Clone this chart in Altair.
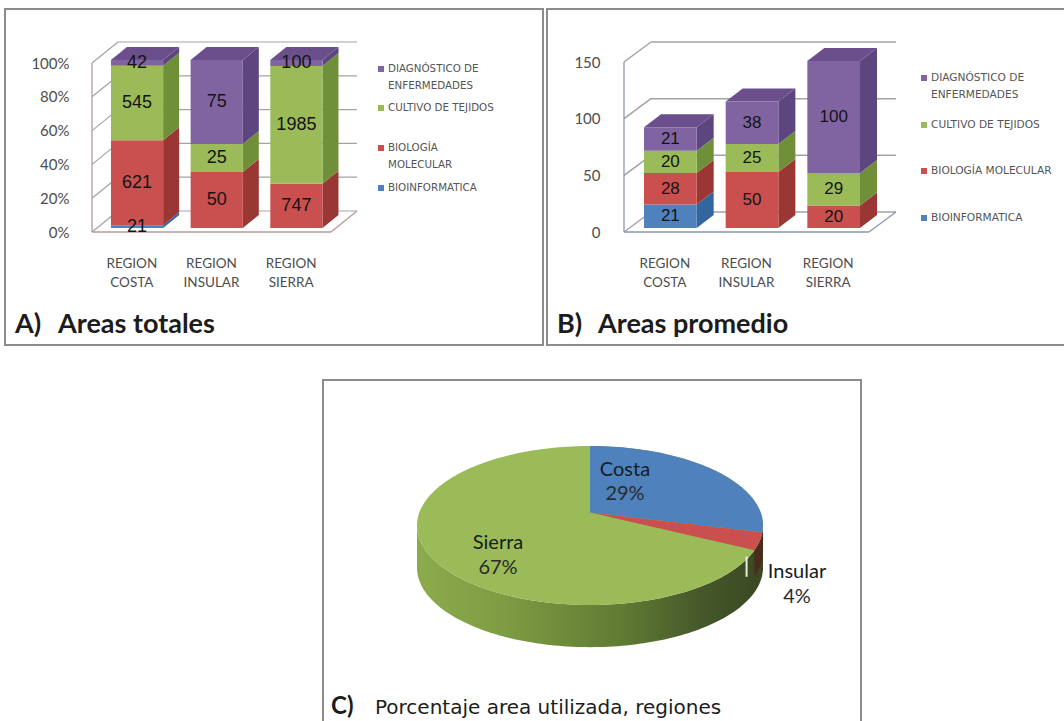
import math
import altair as alt
import pandas as pd

# Region names and series shared by the stacked panels
regions = ["REGION COSTA", "REGION INSULAR", "REGION SIERRA"]
series = ["Bioinformatica", "Biologia", "Cultivo", "Diagnostico"]

# Panel A: total areas per region, drawn as a 100% stack
totals_bioinfo = [21, 0, 0]
totals_biologia = [621, 50, 747]
totals_cultivo = [545, 25, 1985]
totals_diagnostico = [42, 75, 100]

# Panel B: mean areas per region, drawn as an absolute stack
means_bioinfo = [21, 0, 0]
means_biologia = [28, 50, 20]
means_cultivo = [20, 25, 29]
means_diagnostico = [21, 38, 100]

# Panel C: share of used area
pie_names = ["Costa", "Insular", "Sierra"]
pie_shares = [29, 4, 67]

FRONT = {"Bioinformatica": "#4f81bd", "Biologia": "#c9504f", "Cultivo": "#9bbb59", "Diagnostico": "#8064a2"}
SIDE = {"Bioinformatica": "#33669f", "Biologia": "#9a3734", "Cultivo": "#6f8f38", "Diagnostico": "#5d4680"}
TOP = {"Bioinformatica": "#4273ad", "Biologia": "#a84442", "Cultivo": "#7f9f45", "Diagnostico": "#6a4f8c"}
ONE_ROW = pd.DataFrame({"k": [0]})


def qx(x_range, domain=(0, 3)):
    return alt.Scale(domain=list(domain), range=list(x_range), nice=False, zero=False)


def qy(y_range, top):
    return alt.Scale(domain=[0, top], range=list(y_range), nice=False, zero=False)


def text(x, y, label, size=12, font="Lato", color="#444444", align="left", weight="normal"):
    return (
        alt.Chart(ONE_ROW)
        .mark_text(font=font, fontSize=size, color=color, align=align, baseline="middle", fontWeight=weight)
        .encode(x=alt.value(x), y=alt.value(y), text=alt.value(label))
    )


def frame(x0, y0, x1, y1):
    return (
        alt.Chart(ONE_ROW)
        .mark_rect(fillOpacity=0, stroke="#8c8c8c", strokeWidth=2)
        .encode(x=alt.value(x0), x2=alt.value(x1), y=alt.value(y0), y2=alt.value(y1))
    )


def stacked_panel(columns, top, ticks, suffix, geo):
    """Pseudo-3D stacked bars: walls, then side, top and front faces, then labels."""
    layers = []
    xs, ys = geo["front_x"], geo["front_y"]
    unit_px = (xs[1] - xs[0]) / 3
    wall_dx = geo["wall"][0] / unit_px
    wall_dy = geo["wall"][1] / (ys[0] - ys[1]) * top
    x_scale = qx(xs)
    y_scale = qy(ys, top)

    # Back-wall grid, left-wall diagonals and floor edges
    rows = []
    for t in ticks:
        rows += [{"id": f"g{t}", "x": wall_dx, "y": t + wall_dy}, {"id": f"g{t}", "x": 3 + wall_dx, "y": t + wall_dy}]
        rows += [{"id": f"d{t}", "x": 0, "y": t}, {"id": f"d{t}", "x": wall_dx, "y": t + wall_dy}]
    walls = pd.DataFrame(rows)
    layers.append(
        alt.Chart(walls).mark_line(color="#a3a3a3", strokeWidth=geo["grid_width"]).encode(
            x=alt.X("x:Q", scale=x_scale, axis=None),
            y=alt.Y("y:Q", scale=y_scale, axis=None),
            detail="id:N",
        )
    )
    edge = pd.DataFrame(
        [
            {"id": "r", "x": 3, "y": 0},
            {"id": "r", "x": 3 + wall_dx, "y": wall_dy},
            {"id": "b", "x": 0, "y": 0},
            {"id": "b", "x": 3, "y": 0},
            {"id": "l", "x": 1e-6, "y": 0},
            {"id": "l", "x": 0, "y": top},
        ]
    )
    layers.append(
        alt.Chart(edge).mark_line(color=geo["edge"], strokeWidth=1.3).encode(
            x=alt.X("x:Q", scale=x_scale, axis=None),
            y=alt.Y("y:Q", scale=y_scale, axis=None),
            detail="id:N",
        )
    )

    # Axes: labels only, carried by an invisible layer on the front plane
    axis_frame = pd.DataFrame({"region": regions, "v": [0] * 3})
    layers.append(
        alt.Chart(axis_frame).mark_point(opacity=0).encode(
            x=alt.X(
                "region:N",
                sort=regions,
                title=None,
                scale=alt.Scale(type="band", domain=regions, range=list(xs), paddingInner=0, paddingOuter=0),
                axis=alt.Axis(
                    labelExpr="split(datum.label, ' ')", labelAngle=0, labelFont="Lato", labelFontSize=13.5,
                    labelColor="#4d4d4d", labelLineHeight=19, domain=False, ticks=False, grid=False,
                    labelPadding=0, offset=-465, orient="bottom", labelBaseline="top",
                ),
            ),
            y=alt.Y(
                "v:Q",
                title=None,
                scale=y_scale,
                axis=alt.Axis(
                    values=ticks, labelExpr=f"datum.value + '{suffix}'", labelFont="Lato", labelFontSize=15,
                    labelColor="#4d4d4d", domain=False, ticks=False, grid=False, labelPadding=0,
                    offset=-geo["label_right"], orient="left",
                ),
            ),
        )
    )

    # Faces
    bar_x = qx(geo["bar_x"])
    bar_y = qy(geo["bar_y"], top)
    bar_unit = (geo["bar_x"][1] - geo["bar_x"][0]) / 3
    depth_x = geo["depth"][0] / bar_unit
    depth_y = geo["depth"][1] / (geo["bar_y"][0] - geo["bar_y"][1]) * top
    left0, width = geo["bar_left"], geo["bar_width"]

    fronts, faces, labels = [], [], []
    for i in range(3):
        stack_total = sum(columns[s][i] for s in series)
        scale_by = (100 / stack_total) if suffix else 1
        base = 0
        last = None
        for s in series:
            value = columns[s][i]
            if value == 0:
                continue
            y0, y1 = base, base + value * scale_by
            base = y1
            L, R = i + left0, i + left0 + width
            fronts.append({"x": L, "x2": R, "y": y0, "y2": y1, "c": FRONT[s]})
            labels.append({"x": (L + R) / 2, "y": (y0 + y1) / 2, "t": str(value)})
            sid = f"{i}{s}s"
            faces.append({"id": sid, "x": R, "y": y0, "y2": y1, "c": SIDE[s]})
            faces.append({"id": sid, "x": R + depth_x, "y": y0 + depth_y, "y2": y1 + depth_y, "c": SIDE[s]})
            last = (s, L, R, y1)
        s, L, R, t = last
        tid = f"{i}t"
        faces.append({"id": tid, "x": L, "y": t, "y2": t, "c": TOP[s]})
        faces.append({"id": tid, "x": L + depth_x, "y": t, "y2": t + depth_y, "c": TOP[s]})
        faces.append({"id": tid, "x": R, "y": t, "y2": t + depth_y, "c": TOP[s]})
        faces.append({"id": tid, "x": R + depth_x, "y": t + depth_y, "y2": t + depth_y, "c": TOP[s]})

    layers.append(
        alt.Chart(pd.DataFrame(faces)).mark_area(interpolate="linear", opacity=1).encode(
            x=alt.X("x:Q", scale=bar_x, axis=None),
            y=alt.Y("y:Q", scale=bar_y, axis=None, stack=None),
            y2="y2:Q",
            color=alt.Color("c:N", scale=None),
            detail="id:N",
        )
    )
    layers.append(
        alt.Chart(pd.DataFrame(fronts)).mark_rect().encode(
            x=alt.X("x:Q", scale=bar_x, axis=None),
            x2="x2:Q",
            y=alt.Y("y:Q", scale=bar_y, axis=None),
            y2="y2:Q",
            color=alt.Color("c:N", scale=None),
        )
    )
    layers.append(
        alt.Chart(pd.DataFrame(labels)).mark_text(font="Liberation Sans", fontSize=geo["value_size"], color="#141414").encode(
            x=alt.X("x:Q", scale=bar_x, axis=None),
            y=alt.Y("y:Q", scale=bar_y, axis=None),
            text="t:N",
        )
    )

    # Legend rows
    for s, sy, lines in geo["legend"]:
        layers.append(
            alt.Chart(ONE_ROW).mark_square(size=36, color=FRONT[s], opacity=1).encode(
                x=alt.value(geo["legend_x"] - 7), y=alt.value(sy)
            )
        )
        for dy, line in lines:
            layers.append(text(geo["legend_x"], sy + dy, line, size=geo["legend_size"], font="DejaVu Sans", color="#555555"))
    return layers


columns_a = dict(zip(series, [totals_bioinfo, totals_biologia, totals_cultivo, totals_diagnostico]))
columns_b = dict(zip(series, [means_bioinfo, means_biologia, means_cultivo, means_diagnostico]))

panel_a = stacked_panel(
    columns_a, 100, [0, 20, 40, 60, 80, 100], "%",
    dict(
        front_x=(92, 331), front_y=(232, 63), wall=(26, 21), bar_x=(92, 331), bar_y=(228, 60),
        depth=(16, 13), bar_left=0.238, bar_width=0.655, label_right=69, grid_width=1.2,
        edge="#b79a9a", value_size=18, legend_x=388, legend_size=10.3,
        legend=[
            ("Diagnostico", 69, [(0, "DIAGNÓSTICO DE"), (17, "ENFERMEDADES")]),
            ("Cultivo", 108, [(0, "CULTIVO DE TEJIDOS")]),
            ("Biologia", 148, [(0, "BIOLOGÍA"), (17, "MOLECULAR")]),
            ("Bioinformatica", 188, [(0, "BIOINFORMATICA")]),
        ],
    ),
)
panel_b = stacked_panel(
    columns_b, 150, [0, 50, 100, 150], "",
    dict(
        front_x=(624, 869), front_y=(232, 62), wall=(27, 20), bar_x=(624, 869), bar_y=(228, 60),
        depth=(17, 13), bar_left=0.245, bar_width=0.645, label_right=600, grid_width=1.5,
        edge="#8d97ad", value_size=17, legend_x=931, legend_size=10.6,
        legend=[
            ("Diagnostico", 78, [(0, "DIAGNÓSTICO DE"), (17, "ENFERMEDADES")]),
            ("Cultivo", 125, [(0, "CULTIVO DE TEJIDOS")]),
            ("Biologia", 171, [(0, "BIOLOGÍA MOLECULAR")]),
            ("Bioinformatica", 218, [(0, "BIOINFORMATICA")]),
        ],
    ),
)

# --- Panel C: tilted pie, on a unit ellipse mapped to the page by its scales ---
pie_x = qx((417, 763), (-1, 1))
pie_y = alt.Scale(domain=[-1, 1], range=[605, 446], nice=False, zero=False)
APEX_Y = 0.164        # the drawn slice apex sits above the ellipse centre
FORESHORTEN = 0.91    # slices look narrower near the right rim of the tilted disc
THICKNESS = 0.53


def rim(x):
    return math.sqrt(max(0.0, 1 - x * x))


end_costa = math.radians(pie_shares[0] * 3.6 * FORESHORTEN)
end_insular = math.radians((pie_shares[0] + pie_shares[1]) * 3.6 * FORESHORTEN)
sx1, sy1 = math.sin(end_costa), math.cos(end_costa)
sx2, sy2 = math.sin(end_insular), math.cos(end_insular)


def lower(x, ex, ey):
    """Lower boundary of a wedge whose far edge ends at (ex, ey) on the rim."""
    if x <= ex:
        return APEX_Y + (ey - APEX_Y) * x / ex
    return -rim(x)


steps = 120
full_grid = [-math.cos(math.pi * k / steps) for k in range(steps + 1)]
right_grid = sorted({x for x in full_grid if x >= 0} | {0.0, sx1, sx2})

disc = pd.DataFrame({"x": full_grid, "y": [rim(x) for x in full_grid], "y2": [-rim(x) for x in full_grid]})
wall_side = pd.DataFrame(
    {"x": full_grid, "y": [-rim(x) for x in full_grid], "y2": [-rim(x) - THICKNESS for x in full_grid]}
)
costa = pd.DataFrame({"x": right_grid, "y": [rim(x) for x in right_grid], "y2": [lower(x, sx1, sy1) for x in right_grid]})
insular = pd.DataFrame(
    {"x": right_grid, "y": [lower(x, sx1, sy1) for x in right_grid], "y2": [lower(x, sx2, sy2) for x in right_grid]}
)
side_grid = [x for x in right_grid if x >= sx2]
insular_side = pd.DataFrame(
    {"x": side_grid, "y": [-rim(x) for x in side_grid], "y2": [-rim(x) - THICKNESS * 0.62 for x in side_grid]}
)


def pie_area(frame_, fill):
    return alt.Chart(frame_).mark_area(color=fill, interpolate="linear", opacity=1).encode(
        x=alt.X("x:Q", scale=pie_x, axis=None),
        y=alt.Y("y:Q", scale=pie_y, axis=None, stack=None),
        y2="y2:Q",
    )


side_fill = alt.Gradient(
    gradient="linear", x1=0, x2=1, y1=0, y2=0,
    stops=[
        alt.GradientStop(offset=0, color="#8cab4c"),
        alt.GradientStop(offset=0.25, color="#7e9c43"),
        alt.GradientStop(offset=0.6, color="#5f7a32"),
        alt.GradientStop(offset=0.82, color="#46582a"),
        alt.GradientStop(offset=1, color="#3a4722"),
    ],
)
leader = pd.DataFrame(
    {"x": [0.914, 0.905, 0.905], "y": [-0.405, -0.405, -0.645]}
)
pie_layers = [
    pie_area(wall_side, side_fill),
    pie_area(insular_side, "#4b2c1c"),
    pie_area(disc, "#9bbb59"),
    pie_area(costa, "#4f81bd"),
    pie_area(insular, "#c9504f"),
    alt.Chart(leader).mark_line(color="#e9ecd8", strokeWidth=2, order=False).encode(
        x=alt.X("x:Q", scale=pie_x, axis=None),
        y=alt.Y("y:Q", scale=pie_y, axis=None),
    ),
]
pie_labels = {"Costa": (625, 470, 494), "Sierra": (498, 543, 568), "Insular": (797, 572, 597)}
for name, share in zip(pie_names, pie_shares):
    lx, ly1, ly2 = pie_labels[name]
    pie_layers.append(text(lx, ly1, name, size=20, font="Lato", color="#14201f", align="center"))
    pie_layers.append(text(lx, ly2, f"{share}%", size=20, font="Lato", color="#2a2a2a", align="center"))

titles = [
    text(15, 325, "A)", size=27, font="Lato", color="#1c1c1c", weight="bold"),
    text(58, 325, "Areas totales", size=27, font="Lato", color="#1c1c1c", weight="bold"),
    text(557, 325, "B)", size=27, font="Lato", color="#1c1c1c", weight="bold"),
    text(598, 325, "Areas promedio", size=27, font="Lato", color="#1c1c1c", weight="bold"),
    text(331, 707, "C)", size=24, font="Lato", color="#1c1c1c", weight="bold"),
    text(375, 708, "Porcentaje area utilizada, regiones", size=20, font="DejaVu Sans", color="#1c1c1c"),
]

frames = [frame(5, 9, 543, 345), frame(547, 9, 1072, 345), frame(323, 380, 861, 730)]

chart = (
    alt.layer(*frames, *panel_a, *panel_b, *pie_layers, *titles)
    .resolve_scale(x="independent", y="independent", color="independent")
    .resolve_axis(x="independent", y="independent")
    .properties(
        width=1064,
        height=721,
        padding=0,
        background="white",
        autosize=alt.AutoSizeParams(type="none"),
    )
    .configure_view(stroke=None)
)

chart.save("out.html", embed_options={"renderer": "svg", "actions": False})
